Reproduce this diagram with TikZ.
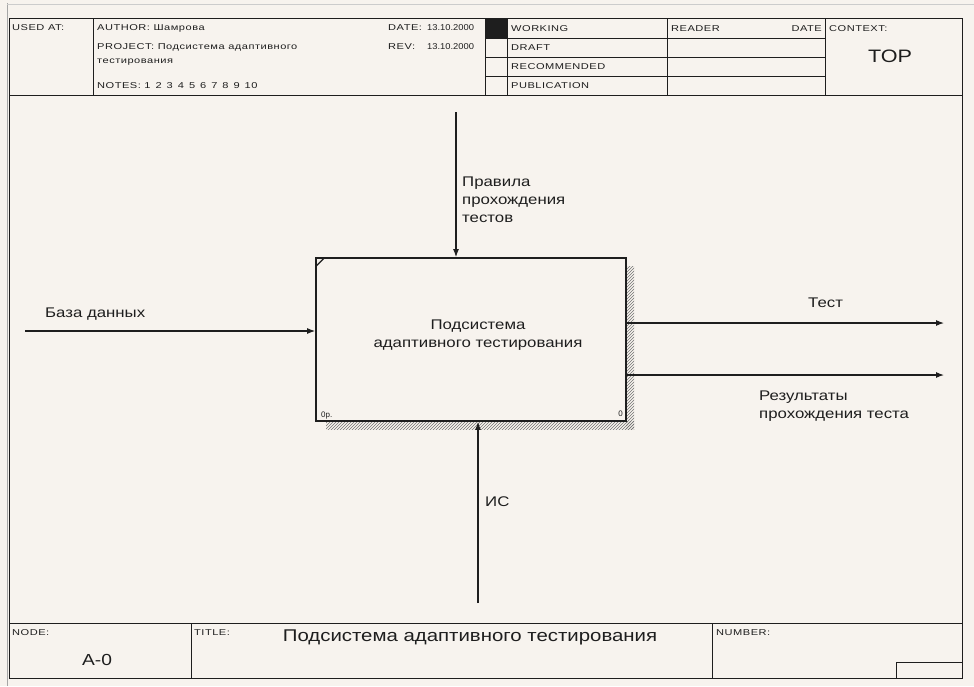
\documentclass[tikz,border=0pt]{standalone}
\usepackage{fontspec}
\setmainfont{Liberation Sans}
\newfontfamily\lfont[FakeStretch=1.2]{Liberation Sans}
\newfontfamily\hfont[FakeStretch=1.3,LetterSpace=6]{Liberation Sans}
\newfontfamily\dfont[FakeStretch=1.1]{Liberation Sans}
\usetikzlibrary{arrows.meta,patterns}
\definecolor{bg}{RGB}{247,243,238}
\definecolor{ink}{RGB}{30,30,30}
\begin{document}
\begin{tikzpicture}[x=1pt,y=-1pt,
  frame/.style={draw=ink, line width=1pt},
  hdr/.style={font=\hfont\fontsize{8.5}{9}\selectfont, anchor=base west, inner sep=0pt, text=ink},
  hval/.style={font=\dfont\fontsize{8.5}{9}\selectfont, anchor=base west, inner sep=0pt, text=ink},
  lbl/.style={font=\lfont\fontsize{14}{16}\selectfont, anchor=base west, inner sep=0pt, text=ink},
  flow/.style={draw=ink, line width=1.1pt, -{Latex[length=8pt,width=6pt]}},
  funcbox/.style={draw=ink, line width=1.8pt, fill=bg, inner sep=0pt, minimum width=310pt, minimum height=163pt}]
\fill[bg] (0,0) rectangle (974,686);
\useasboundingbox (0,0) rectangle (974,686);
% page edges
\draw[black!35, line width=1pt] (7,3) -- (7,686);
\draw[black!20, line width=1pt] (7,4) -- (974,4);
% outer frame
\draw[frame] (9,18) rectangle (962,678);
% header
\draw[frame] (9,95) -- (962,95);
\foreach \x in {93,485,507,667,825} \draw[frame] (\x,18) -- (\x,95);
\foreach \y in {38,57,76} \draw[frame] (485,\y) -- (825,\y);
\fill[ink] (485,18) rectangle (507,38);
\node[hdr] (usedat) at (12,30) {USED AT:};
\node[hdr] (author) at (97,30) {AUTHOR: Шамрова};
\node[hdr] (project) at (97,49) {PROJECT: Подсистема адаптивного};
\node[hdr] (project2) at (97,63) {тестирования};
\node[hdr] (notes) at (97,88) {NOTES:\ 1\,\ 2\,\ 3\,\ 4\,\ 5\,\ 6\,\ 7\,\ 8\,\ 9\,\ 10};
\node[hdr] (datel) at (388,30) {DATE:};
\node[hval] (datev) at (427,30) {13.10.2000};
\node[hdr] (revl) at (388,49) {REV:};
\node[hval] (revv) at (427,49) {13.10.2000};
\node[hdr] (working) at (511,31) {WORKING};
\node[hdr] (draft) at (511,50) {DRAFT};
\node[hdr] (recom) at (511,69) {RECOMMENDED};
\node[hdr] (publ) at (511,88) {PUBLICATION};
\node[hdr] (reader) at (671,31) {READER};
\node[hdr, anchor=base east] (rdate) at (822,31) {DATE};
\node[hdr] (context) at (829,31) {CONTEXT:};
\node[font=\lfont\fontsize{18}{20}\selectfont, text=ink, inner sep=0pt] (top) at (890,56) {TOP};
% footer
\draw[frame] (9,623) -- (962,623);
\draw[frame] (191,623) -- (191,678);
\draw[frame] (712,623) -- (712,678);
\draw[frame] (896,662) rectangle (962,678);
\node[hdr] (nodel) at (12,635) {NODE:};
\node[hdr] (titlel) at (194,635) {TITLE:};
\node[hdr] (numberl) at (716,635) {NUMBER:};
\node[font=\lfont\fontsize{16}{18}\selectfont, text=ink, inner sep=0pt] (nodev) at (97,660) {A-0};
\node[font=\lfont\fontsize{17}{19}\selectfont, text=ink, inner sep=0pt] (title) at (470,637) {Подсистема адаптивного тестирования};
% shadow
\fill[pattern=north east lines, pattern color=black!55] (626,266) rectangle (634,429);
\fill[pattern=north east lines, pattern color=black!55] (326,421) rectangle (634,429);
% function box
\node[funcbox] (box) at (471,339.5) {};
\node[font=\lfont\fontsize{14}{18}\selectfont, align=center, text=ink, inner sep=0pt] (boxtext) at (478,335) {Подсистема\\адаптивного тестирования};
\draw[ink, line width=1.3pt] (box.north west) ++(1,9) -- ++(8,-8);
\node[font=\fontsize{8}{9}\selectfont, anchor=base west, inner sep=0pt, text=ink] (opnum) at (321,417) {0р.};
\node[font=\fontsize{8}{9}\selectfont, anchor=base east, inner sep=0pt, text=ink] (cost) at (623,416) {0};
% arrows
\coordinate (ctop) at (456,112);
\draw[flow] (ctop) -- (ctop |- box.north);
\coordinate (inl) at (25,331);
\draw[flow] (inl) -- (inl -| box.west);
\coordinate (o1) at (944,323);
\draw[flow] (o1 -| box.east) -- (o1);
\coordinate (o2) at (944,375);
\draw[flow] (o2 -| box.east) -- (o2);
\coordinate (mb) at (478,603);
\draw[flow] (mb) -- (mb |- box.south);
% labels
\node[lbl] (c1) at (462,186) {Правила};
\node[lbl] (c2) at (462,204) {прохождения};
\node[lbl] (c3) at (462,222) {тестов};
\node[lbl] (i1) at (45,317) {База данных};
\node[lbl] (t1) at (808,307) {Тест};
\node[lbl] (r1) at (759,400) {Результаты};
\node[lbl] (r2) at (759,418) {прохождения теста};
\node[lbl] (m1) at (485,506) {ИС};
\end{tikzpicture}
\end{document}
